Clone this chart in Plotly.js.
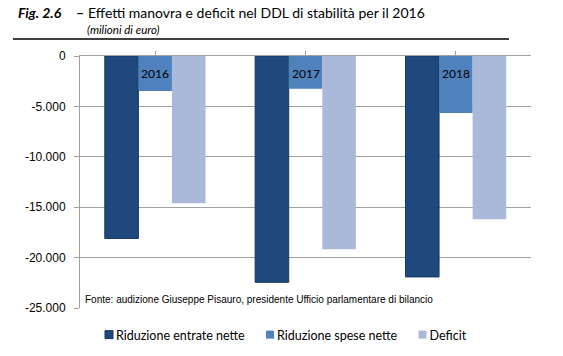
<!DOCTYPE html>
<html><head><meta charset="utf-8">
<script src="https://cdn.plot.ly/plotly-3.0.1.min.js"></script>
<style>html,body{margin:0;padding:0;background:#fff;}#chart{width:563px;height:356px;}</style>
</head><body><div id="chart"></div>
<script>
const categories = ['2016', '2017', '2018'];
const seriesNames = ['Riduzione entrate nette', 'Riduzione spese nette', 'Deficit'];
const entrate = [-18100, -22450, -21920];
const spese = [-3470, -3240, -5650];
const deficit = [-14600, -19180, -16200];
const yTickVals = [0, -5000, -10000, -15000, -20000, -25000];
const yTickText = ['0', '-5.000', '-10.000', '-15.000', '-20.000', '-25.000'];

const colors = ['#1f497d', '#4f81bd', '#aab9d9'];
const lines = ['#17375e', '#4f81bd', '#aab9d9'];
const vals = [entrate, spese, deficit];
const data = vals.map((v, i) => ({
  type: 'bar', x: categories, y: v, name: seriesNames[i],
  marker: {color: colors[i], line: {color: lines[i], width: i === 0 ? 1 : 0}},
  hoverinfo: 'none'
}));

const W = 563, H = 356, L = 80, R = 32, T = 56, B = 48;
const pw = W - L - R, ph = H - T - B;
const px = x => (x - L) / pw;
const py = y => (H - B - y) / ph;
const sans = 'Lato, "Noto Sans", sans-serif';

const layout = {
  width: W, height: H,
  margin: {l: L, r: R, t: T, b: B, pad: 0, autoexpand: false},
  paper_bgcolor: '#fff', plot_bgcolor: '#fff',
  barmode: 'group', bargap: 0.33, bargroupgap: 0,
  showlegend: true,
  legend: {orientation: 'h', xref: 'container', x: 76 / W, xanchor: 'left', yref: 'container', y: (H - 335) / H, yanchor: 'middle',
    font: {family: sans, size: 12.5, color: '#000'}, traceorder: 'normal', itemwidth: 30, tracegroupgap: 0},
  xaxis: {side: 'top', showticklabels: false, ticks: 'outside', ticklen: 4, tickcolor: '#a0a0a0',
    tickson: 'boundaries', showline: true, linecolor: '#a0a0a0', linewidth: 1, showgrid: false, zeroline: false,
    fixedrange: true},
  yaxis: {range: [-25000, 0], tickvals: yTickVals, ticktext: yTickText, ticks: 'outside', ticklen: 5,
    ticklabelstandoff: 6,
    tickcolor: '#a0a0a0', showline: true, linecolor: '#a0a0a0', linewidth: 1, showgrid: true, gridcolor: '#a0a0a0',
    gridwidth: 1, zeroline: false, tickfont: {family: '"Liberation Sans", Arial, sans-serif', size: 12, color: '#000'},
    fixedrange: true},
  annotations: [
    ...categories.map(c => ({x: c, y: 0, xref: 'x', yref: 'y', text: c, showarrow: false, yanchor: 'top', yshift: -8,
      font: {family: sans, size: 12, color: '#000'}})),
    {x: px(16), y: py(13), xref: 'paper', yref: 'paper', xanchor: 'left', yanchor: 'middle', showarrow: false,
      text: '<b><i>Fig. 2.6</i></b>', font: {family: sans, size: 14, color: '#000'}},
    {x: px(80), y: py(13), xref: 'paper', yref: 'paper', xanchor: 'center', yanchor: 'middle', showarrow: false,
      text: '<b>–</b>', font: {family: sans, size: 14, color: '#000'}},
    {x: px(86), y: py(13), xref: 'paper', yref: 'paper', xanchor: 'left', yanchor: 'middle', showarrow: false,
      text: 'Effetti manovra e deficit nel DDL di stabilità per il 2016', font: {family: sans, size: 14, color: '#000'}},
    {x: px(85), y: py(30), xref: 'paper', yref: 'paper', xanchor: 'left', yanchor: 'middle', showarrow: false,
      text: '<i>(milioni di euro)</i>', font: {family: sans, size: 11.5, color: '#000'}},
    {x: px(83), y: py(299), xref: 'paper', yref: 'paper', xanchor: 'left', yanchor: 'middle', showarrow: false,
      text: 'Fonte: audizione Giuseppe Pisauro, presidente Ufficio parlamentare di bilancio',
      font: {family: '"Liberation Sans", Arial, sans-serif', size: 10, color: '#000'}}
  ],
  shapes: [
    {type: 'line', xref: 'paper', yref: 'paper', x0: px(13), x1: px(509), y0: py(39), y1: py(39), line: {color: '#000', width: 1.5}}
  ]
};
Plotly.newPlot('chart', data, layout, {staticPlot: true, displayModeBar: false}).then(gd => {
  gd.querySelectorAll('.legendpoints path').forEach(p => {
    p.setAttribute('d', 'M9,4H17V-4H9Z');
  });
  const items = Array.from(gd.querySelectorAll('.legend .traces'));
  let prevX = null, prevY = null, prevW = 0;
  items.forEach((g, i) => {
    const m = /translate\(\s*([-\d.]+)[ ,]+([-\d.]+)/.exec(g.getAttribute('transform') || '');
    if (!m) return;
    const tx = g.querySelector('.legendtext');
    const w = tx ? tx.getBBox().width : 0;
    if (i === 0) { prevX = +m[1]; prevY = +m[2]; }
    else { prevX = prevX + prevW + 32; g.setAttribute('transform', 'translate(' + prevX + ',' + prevY + ')'); }
    prevW = w;
  });
});
</script></body></html>
